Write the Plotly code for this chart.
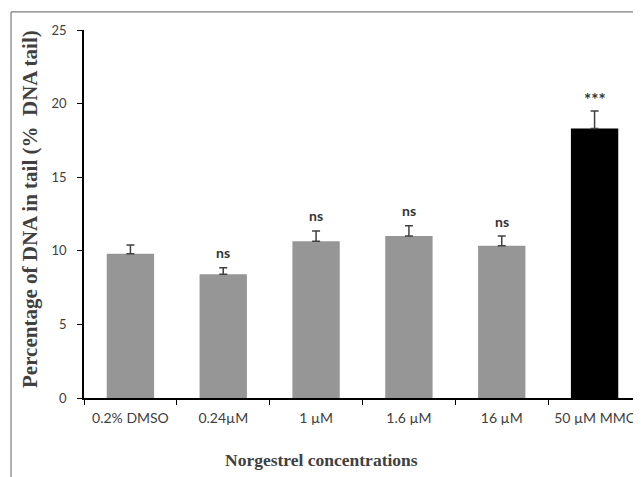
import plotly.graph_objects as go

categories = ["0.2% DMSO", "0.24µM", "1 µM", "1.6 µM", "16 µM", "50 µM MMC"]
values = [9.8, 8.4, 10.65, 11.0, 10.35, 18.3]
errors = [0.6, 0.45, 0.7, 0.7, 0.65, 1.2]
labels = ["", "ns", "ns", "ns", "ns", "***"]
colors = ["#969696", "#969696", "#969696", "#969696", "#969696", "#000000"]

fig = go.Figure()
fig.add_trace(go.Bar(
    x=categories, y=values,
    marker=dict(color=colors, line=dict(width=0)),
    width=0.51,
    error_y=dict(type="data", array=errors, arrayminus=[0]*len(errors), symmetric=False,
                 color="#404040", thickness=1.5, width=4),
    showlegend=False,
))

for c, v, e, t in zip(categories, values, errors, labels):
    if t:
        fig.add_annotation(x=c, y=v + e, text=t, showarrow=False, yanchor="middle",
                           yshift=15 if t == "ns" else 11,
                           font=dict(family="Lato", size=14 if t == "ns" else 17, color="#333333",
                                     weight="bold"))

# outer frame (partially visible)
fig.add_shape(type="line", xref="paper", yref="paper", x0=-0.131, x1=-0.131, y0=-0.22, y1=1.049,
              line=dict(color="#7f7f7f", width=1.2), layer="above")
fig.add_shape(type="line", xref="paper", yref="paper", x0=-0.131, x1=1.0, y0=1.049, y1=1.049,
              line=dict(color="#7f7f7f", width=1.2), layer="above")

fig.add_annotation(xref="paper", yref="paper", x=(321 - 84) / 557, y=(398 - 460) / 368,
                   text="<b>Norgestrel concentrations</b>", showarrow=False,
                   xanchor="center", yanchor="middle",
                   font=dict(family="Liberation Serif", size=17.5, color="#404040"))
fig.add_annotation(xref="paper", yref="paper", x=(30 - 84) / 557, y=(398 - 209) / 368,
                   text="<b>Percentage of DNA in tail (%  DNA tail)</b>", showarrow=False,
                   textangle=-90, xanchor="center", yanchor="middle",
                   font=dict(family="Liberation Serif", size=21, color="#404040"))

fig.update_layout(
    width=633, height=469,
    margin=dict(l=76, r=0, t=22, b=79),
    plot_bgcolor="white", paper_bgcolor="white",
)
fig.update_xaxes(range=[-0.5, 5.5], showline=True, linecolor="black", linewidth=1.5,
                 ticks="outside", tickson="boundaries", ticklen=5, tickcolor="black",
                 tickfont=dict(family="Lato", size=14, color="#404040"), tickangle=0,
                 automargin=False,
                 ticklabelstandoff=6, showgrid=False, zeroline=False, fixedrange=True)
fig.update_yaxes(range=[0, 25], dtick=5, showline=True, linecolor="black", linewidth=1.5,
                 ticks="outside", ticklen=5, tickcolor="black",
                 tickfont=dict(family="Lato", size=13, color="#404040"), automargin=False,
                 ticklabelstandoff=8, showgrid=False, zeroline=False)

fig.write_html("out.html")
